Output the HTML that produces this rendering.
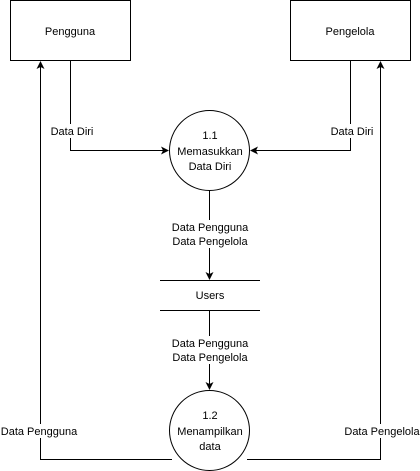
<!DOCTYPE html>
<html><head><style>body{margin:0;background:#fff}svg{display:block}text{font-family:"Liberation Sans",sans-serif;font-size:11px;fill:#000}</style></head>
<body>
<svg width="420" height="471" viewBox="0 0 420 471">
<defs><marker id="a" markerWidth="8" markerHeight="8" refX="7" refY="4" orient="auto" markerUnits="userSpaceOnUse"><path d="M0,0 L8,4 L0,8 L2,4 z" fill="#000"/></marker></defs>
<g fill="none" stroke="#000" stroke-width="1">
<rect x="10.5" y="0.5" width="120" height="60"/>
<rect x="290.5" y="0.5" width="120" height="60"/>
<circle cx="209.5" cy="150.5" r="40"/>
<circle cx="209.5" cy="430.5" r="40"/>
<line x1="160" y1="280.5" x2="260" y2="280.5"/>
<line x1="160" y1="310.5" x2="260" y2="310.5"/>
<path d="M70.5,61 V150.5 H168" marker-end="url(#a)"/>
<path d="M350.5,61 V150.5 H251" marker-end="url(#a)"/>
<path d="M209.5,191 V279" marker-end="url(#a)"/>
<path d="M209.5,311 V389" marker-end="url(#a)"/>
<path d="M172,459.5 H40.5 V62" marker-end="url(#a)"/>
<path d="M247,459.5 H380.5 V62" marker-end="url(#a)"/>
</g>
<rect x="47" y="124" width="50" height="14" fill="#fff"/>
<rect x="328" y="124" width="50" height="14" fill="#fff"/>
<rect x="168" y="220" width="84" height="28" fill="#fff"/>
<rect x="168" y="336" width="84" height="28" fill="#fff"/>
<rect x="0" y="424" width="78" height="14" fill="#fff"/>
<rect x="343" y="424" width="77" height="14" fill="#fff"/>
<g text-anchor="middle">
<text x="70" y="35" font-size="12">Pengguna</text>
<text x="350" y="35" font-size="12">Pengelola</text>
<text x="210" y="139" font-size="12">1.1</text>
<text x="210" y="155" font-size="12">Memasukkan</text>
<text x="210" y="170" font-size="12">Data Diri</text>
<text x="210" y="299" font-size="12">Users</text>
<text x="210" y="419" font-size="12">1.2</text>
<text x="210" y="435" font-size="12">Menampilkan</text>
<text x="210" y="450" font-size="12">data</text>
<text x="72" y="135">Data Diri</text>
<text x="352" y="135">Data Diri</text>
<text x="210" y="231">Data Pengguna</text>
<text x="210" y="245">Data Pengelola</text>
<text x="210" y="347">Data Pengguna</text>
<text x="210" y="361">Data Pengelola</text>
<text x="39" y="435">Data Pengguna</text>
<text x="382" y="435">Data Pengelola</text>
</g>
</svg>
</body></html>
